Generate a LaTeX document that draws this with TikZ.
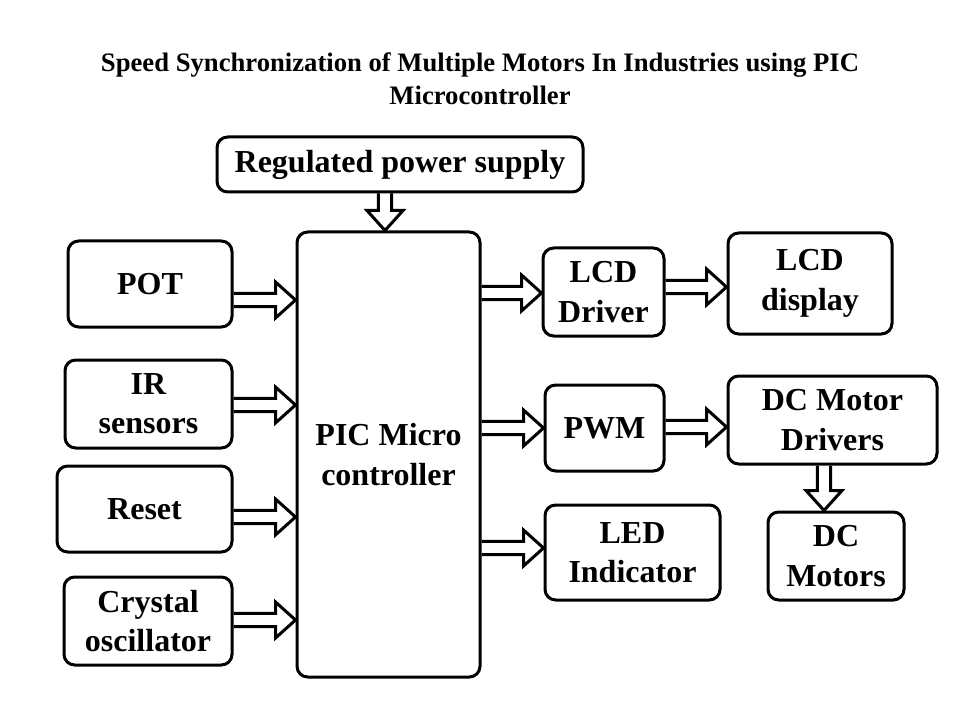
\documentclass[tikz,border=0pt]{standalone}
\usepackage{fontspec}
\setmainfont{Liberation Serif}
\usepackage{tikz}
\usetikzlibrary{calc}

\tikzset{
  blk/.style={draw,line width=2.25pt,rounded corners=8pt,align=center,
              inner sep=0pt,font=\fontsize{24}{29.5}\selectfont\bfseries},
  blkarrow/.style={draw,line width=2.25pt,line join=miter}
}
% hollow block arrow from #1 to #2
\newcommand{\blockarrow}[2]{%
  \draw[blkarrow] let \p1=#1, \p2=#2,
      \n1={veclen(\x2-\x1,\y2-\y1)}, \n2={atan2(\y2-\y1,\x2-\x1)} in
    [shift={(\p1)},rotate=\n2]
    (0pt,-4.9pt) -- ({\n1-15pt},-4.9pt) -- ({\n1-15pt},-13.5pt) -- ({\n1+0pt},0pt)
    -- ({\n1-15pt},13.5pt) -- ({\n1-15pt},4.9pt) -- (0pt,4.9pt);}

\begin{document}
\begin{tikzpicture}[x=0.75pt,y=-0.75pt]
    \useasboundingbox (0,0) rectangle (960,720);
    \node[align=center,font=\fontsize{20}{25}\selectfont\bfseries] (title) at (480,79)
      {Speed Synchronization of Multiple Motors In Industries using PIC\\Microcontroller};

    \node[blk,minimum width=274.5pt,minimum height=41.25pt] (power) at (400,164.5) {Regulated power supply};
    \node[blk,minimum width=123pt,minimum height=64.5pt] (pot) at (150,284) {POT};
    \node[blk,minimum width=125.25pt,minimum height=66pt] (ir) at (148.5,404) {IR\\sensors};
    \node[blk,minimum width=131.25pt,minimum height=64.5pt] (reset) at (144.5,509) {Reset};
    \node[blk,minimum width=126pt,minimum height=66pt] (crystal) at (148,621) {Crystal\\oscillator};
    \node[blk,minimum width=137.25pt,minimum height=333.75pt] (pic) at (388.5,454.5) {PIC Micro\\controller};
    \node[blk,minimum width=90.75pt,minimum height=66pt] (lcddrv) at (603.5,292) {LCD\\Driver};
    \node[blk,minimum width=89.25pt,minimum height=64.5pt] (pwm) at (604.5,428) {PWM};
    \node[blk,minimum width=131.25pt,minimum height=71.25pt] (led) at (632.5,552.5) {LED\\Indicator};
    \node[blk,minimum width=123pt,minimum height=75.75pt] (lcddisp) at (810,283.5) {LCD\\display};
    \node[blk,minimum width=156.75pt,minimum height=66pt] (dcdrv) at (832.5,420) {DC Motor\\Drivers};
    \node[blk,minimum width=102pt,minimum height=66pt] (motors) at (836,556) {DC\\Motors};

    % inputs
    \blockarrow{(pot.east |- 0,300)}{(pic.west |- 0,300)}
    \blockarrow{(ir.east |- 0,405)}{(pic.west |- 0,405)}
    \blockarrow{(reset.east |- 0,517)}{(pic.west |- 0,517)}
    \blockarrow{(crystal.east |- 0,620)}{(pic.west |- 0,620)}
    % outputs
    \blockarrow{(pic.east |- 0,293)}{(lcddrv.west |- 0,293)}
    \blockarrow{(pic.east |- 0,428)}{(pwm.west |- 0,428)}
    \blockarrow{(pic.east |- 0,548)}{(led.west |- 0,548)}
    \blockarrow{(lcddrv.east |- 0,287)}{(lcddisp.west |- 0,287)}
    \blockarrow{(pwm.east |- 0,427)}{(dcdrv.west |- 0,427)}
    \blockarrow{(385,0 |- power.south)}{(385,0 |- pic.north)}
    \blockarrow{(824,0 |- dcdrv.south)}{(824,0 |- motors.north)}
\end{tikzpicture}
\end{document}
